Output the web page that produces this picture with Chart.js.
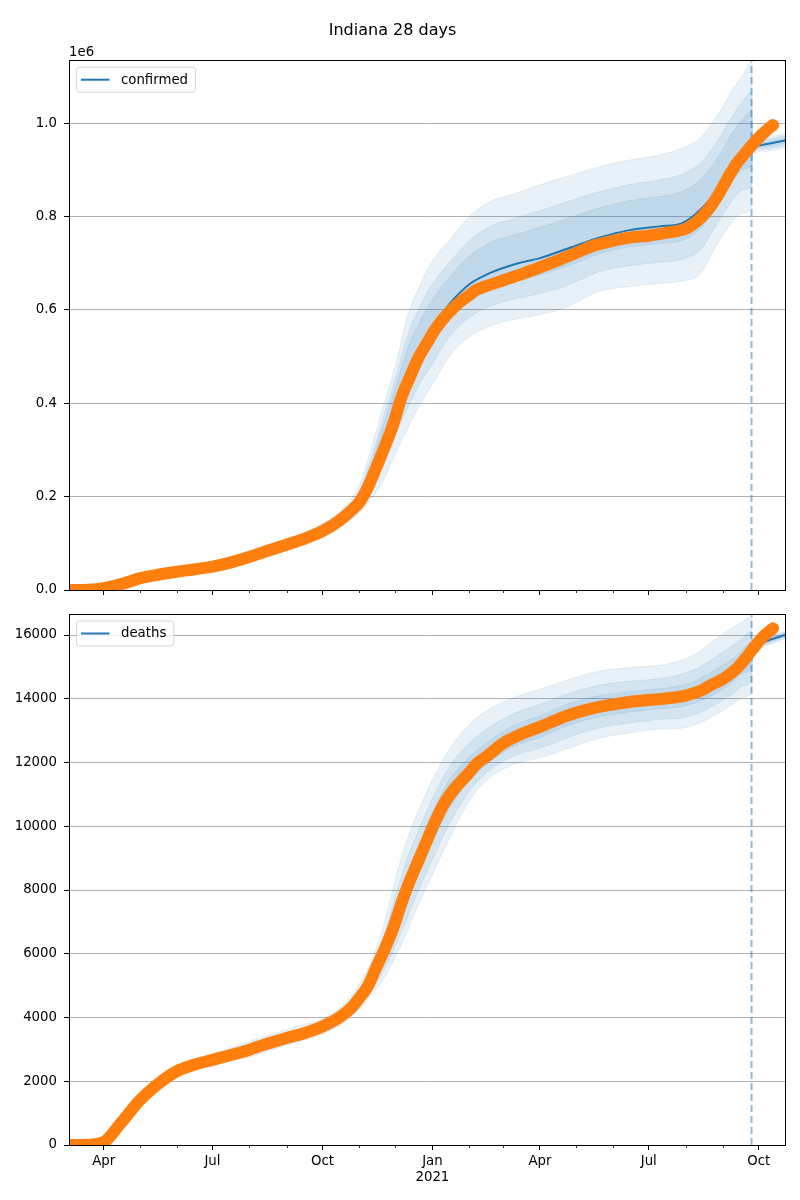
<!DOCTYPE html>
<html>
<head>
<meta charset="utf-8">
<title>Indiana 28 days</title>
<script src="https://cdn.jsdelivr.net/npm/chart.js@4.4.0/dist/chart.umd.min.js"></script>
<style>
  html, body { margin: 0; padding: 0; background: #fff; }
  #wrap { position: relative; width: 800px; height: 1200px; }
  .panel { position: absolute; left: 0; width: 800px; height: 600px; }
</style>
</head>
<body>
<div id="wrap">
  <div class="panel" style="top:0"><canvas id="confirmedChart" width="800" height="600"></canvas></div>
  <div class="panel" style="top:600px"><canvas id="deathsChart" width="800" height="600"></canvas></div>
</div>
<script>
// axis range and ticks
const xStart = '2020-03-03';
const xEnd = '2021-10-23';
const forecastStart = '2021-09-25';
const majorTickDates = ['2020-04-01', '2020-07-01', '2020-10-01', '2021-01-01', '2021-04-01', '2021-07-01', '2021-10-01'];
const majorTickLabels = ['Apr', 'Jul', 'Oct', ['Jan', '2021'], 'Apr', 'Jul', 'Oct'];
const minorTickDates = ['2020-05-01', '2020-06-01', '2020-08-01', '2020-09-01', '2020-11-01', '2020-12-01',
    '2021-02-01', '2021-03-01', '2021-05-01', '2021-06-01', '2021-08-01', '2021-09-01'];
const confirmedTicks = [0, 200000, 400000, 600000, 800000, 1000000];
const deathsTicks = [0, 2000, 4000, 6000, 8000, 10000, 12000, 14000, 16000];
const confirmedMax = 1135000;
const deathsMax = 16660;

// observed values (orange dots)
const obsDates = ['2020-03-03', '2020-03-15', '2020-04-01', '2020-04-15', '2020-05-01', '2020-05-15', '2020-06-01', '2020-06-15',
    '2020-07-01', '2020-07-15', '2020-08-01', '2020-08-15', '2020-09-01', '2020-09-15', '2020-10-01', '2020-10-15',
    '2020-10-25', '2020-11-01', '2020-11-08', '2020-11-15', '2020-11-22', '2020-11-29', '2020-12-06', '2020-12-13',
    '2020-12-20', '2020-12-27', '2021-01-03', '2021-01-10', '2021-01-17', '2021-01-24', '2021-01-31', '2021-02-07',
    '2021-02-15', '2021-03-01', '2021-03-15', '2021-04-01', '2021-04-15', '2021-05-01', '2021-05-15', '2021-06-01',
    '2021-06-15', '2021-07-01', '2021-07-15', '2021-08-01', '2021-08-08', '2021-08-15', '2021-08-22', '2021-08-29',
    '2021-09-05', '2021-09-12', '2021-09-19', '2021-09-26', '2021-10-03', '2021-10-10', '2021-10-13'];
const confirmedObs = [0, 200, 4000, 12000, 25000, 32000, 39000, 44000,
    50000, 58000, 71000, 83000, 97000, 109000, 126000, 148000,
    170000, 188000, 220000, 262000, 306000, 353000, 412000, 455000,
    496000, 527000, 557000, 581000, 600000, 617000, 630000, 643000,
    651000, 663000, 675000, 691000, 705000, 722000, 737000, 748000,
    755000, 759000, 765000, 774000, 785000, 801000, 822000, 850000,
    882000, 912000, 934000, 955000, 974000, 990000, 996000];
const deathsObs = [0, 0, 90, 670, 1390, 1870, 2310, 2510,
    2670, 2810, 2990, 3170, 3360, 3500, 3720, 4000,
    4300, 4620, 4980, 5570, 6140, 6780, 7570, 8280,
    8890, 9510, 10130, 10660, 11055, 11370, 11650, 11960,
    12180, 12600, 12870, 13120, 13340, 13560, 13700, 13820,
    13900, 13960, 14010, 14100, 14180, 14280, 14430, 14560,
    14720, 14930, 15220, 15560, 15880, 16120, 16210];

// model median and quantile bands
const modelDates = ['2020-03-03', '2020-04-01', '2020-05-01', '2020-06-01', '2020-07-01', '2020-08-01', '2020-09-01',
    '2020-10-01', '2020-10-17', '2020-11-01', '2020-11-11', '2020-11-21', '2020-12-01', '2020-12-11', '2020-12-21',
    '2021-01-01', '2021-01-15', '2021-02-01', '2021-02-19', '2021-03-11', '2021-04-01', '2021-04-25', '2021-05-21',
    '2021-06-15', '2021-07-10', '2021-07-29', '2021-08-13', '2021-08-27', '2021-09-10', '2021-09-18', '2021-09-25',
    '2021-09-26', '2021-10-07', '2021-10-23'];

const confirmedMid = [0, 4000, 25000, 39000, 50000, 72000, 98000,
    128000, 155000, 195000, 248000, 322000, 400000, 465000, 517000,
    563000, 612000, 655000, 680000, 698000, 711000, 732000, 755000,
    771000, 779000, 786000, 814000, 857000, 917000, 942000, 950000,
    950000, 955000, 963000];
const confirmedOuterHi = [0, 5000, 27000, 42000, 54000, 77000, 106000,
    142000, 172000, 225000, 305000, 395000, 480000, 585000, 650000,
    705000, 748000, 800000, 833000, 849000, 868000, 887000, 907000,
    921000, 932000, 947000, 968000, 1015000, 1075000, 1105000, 1131000,
    965000, 970000, 977000];
const confirmedOuterLo = [0, 3000, 23000, 36000, 46000, 66000, 89000,
    114000, 138000, 165000, 195000, 235000, 292000, 345000, 395000,
    440000, 500000, 543000, 566000, 580000, 590000, 608000, 640000,
    650000, 657000, 662000, 678000, 740000, 792000, 808000, 821000,
    935000, 940000, 948000];
const confirmedMidHi = [0, 5000, 26300, 41000, 52600, 75300, 103200,
    137100, 166100, 214500, 285100, 369500, 452000, 543000, 603500,
    655300, 700400, 749300, 779500, 796200, 813000, 832800, 853800,
    868500, 878500, 890700, 914100, 959700, 1019700, 1048000, 1067700,
    960000, 965000, 973000];
const confirmedMidLo = [0, 3000, 23700, 37100, 47500, 68200, 92300,
    119200, 144300, 176100, 214600, 267200, 332000, 389400, 440100,
    485500, 541400, 584400, 608200, 623700, 634800, 653900, 682500,
    694800, 702100, 707900, 728300, 783300, 838300, 857600, 868700,
    940000, 945000, 953000];
const confirmedInnerHi = [0, 4400, 25800, 40300, 51700, 74100, 101400,
    133900, 162100, 207600, 271900, 352700, 433600, 515400, 572900,
    622600, 669100, 715900, 744300, 761400, 777000, 797100, 818800,
    834000, 843300, 853600, 878700, 923400, 983400, 1010500, 1026000,
    955000, 960000, 968000];
const confirmedInnerLo = [0, 3700, 24400, 38100, 48800, 70200, 95300,
    123800, 149900, 186000, 232100, 295900, 367600, 429000, 480400,
    526100, 578400, 621400, 645800, 662600, 674700, 694800, 720500,
    734700, 742400, 748800, 773200, 821900, 879500, 901800, 911300,
    945000, 950000, 958000];

const deathsMid = [0, 90, 1390, 2310, 2680, 3000, 3370,
    3730, 4060, 4630, 5200, 6000, 6960, 8080, 8980,
    9980, 11020, 11730, 12300, 12800, 13110, 13500, 13770,
    13900, 14000, 14090, 14260, 14530, 14870, 15180, 15450,
    15560, 15800, 16000];
const deathsOuterHi = [0, 130, 1500, 2450, 2850, 3250, 3620,
    3980, 4360, 5050, 5800, 6850, 8350, 9600, 10550,
    11450, 12400, 13200, 13700, 14050, 14300, 14600, 14870,
    14980, 15050, 15220, 15500, 15900, 16250, 16430, 16560,
    15680, 15920, 16120];
const deathsOuterLo = [0, 60, 1280, 2170, 2520, 2760, 3130,
    3480, 3780, 4270, 4700, 5200, 5900, 6700, 7600,
    8480, 9600, 10800, 11550, 11950, 12150, 12450, 12770,
    12930, 13050, 13080, 13250, 13520, 13850, 14050, 14210,
    15440, 15680, 15880];
const deathsMidHi = [0, 114, 1456, 2394, 2782, 3150, 3520,
    3880, 4240, 4882, 5560, 6510, 7794, 8992, 9922,
    10862, 11848, 12612, 13140, 13550, 13820, 14168, 14430,
    14548, 14630, 14768, 15004, 15352, 15698, 15930, 16116,
    15640, 15880, 16080];
const deathsMidLo = [0, 70, 1315, 2215, 2571, 2837, 3207,
    3560, 3870, 4385, 4860, 5456, 6239, 7142, 8042,
    8960, 10054, 11098, 11790, 12222, 12454, 12792, 13090,
    13240, 13354, 13403, 13573, 13843, 14176, 14412, 14607,
    15480, 15720, 15920];
const deathsInnerHi = [0, 102, 1423, 2352, 2731, 3075, 3445,
    3805, 4150, 4756, 5380, 6255, 7377, 8536, 9451,
    10421, 11434, 12171, 12720, 13175, 13460, 13844, 14100,
    14224, 14315, 14429, 14632, 14941, 15284, 15555, 15783,
    15600, 15840, 16040];
const deathsInnerLo = [0, 80, 1354, 2264, 2627, 2921, 3291,
    3648, 3968, 4511, 5035, 5736, 6610, 7625, 8525,
    9485, 10551, 11423, 12052, 12520, 12786, 13167, 13440,
    13580, 13686, 13757, 13927, 14197, 14533, 14807, 15041,
    15520, 15760, 15960];

const FONT = 'DejaVu Sans';
const BLUE = '#1f77b4';
const ORANGE = '#ff7f0e';
const BAND = 'rgba(31, 119, 180, 0.1)';

Chart.defaults.font.family = FONT;
Chart.defaults.font.size = 13.3;
Chart.defaults.color = '#000';

// days since 2020-01-01
function dayOf(s) {
    const p = s.split('-').map(Number);
    return (Date.UTC(p[0], p[1] - 1, p[2]) - Date.UTC(2020, 0, 1)) / 86400000;
}

function pts(dates, vals) {
    return dates.map((d, i) => ({ x: dayOf(d), y: vals[i] }));
}

// frame, minor ticks, legend box and offset text
const decorations = {
    id: 'decorations',
    afterDatasetsDraw(chart, args, opts) {
        const ctx = chart.ctx;
        const a = chart.chartArea;
        const xs = chart.scales.x;
        ctx.save();

        ctx.strokeStyle = '#000';
        ctx.lineWidth = 1;
        ctx.strokeRect(Math.round(a.left) + 0.5, Math.round(a.top) + 0.5,
            Math.round(a.right - a.left), Math.round(a.bottom - a.top));

        ctx.lineWidth = 0.8;
        minorTickDates.forEach(s => {
            const px = Math.round(xs.getPixelForValue(dayOf(s))) + 0.5;
            ctx.beginPath();
            ctx.moveTo(px, a.bottom);
            ctx.lineTo(px, a.bottom + 3);
            ctx.stroke();
        });

        // legend
        ctx.font = '13.3px "' + FONT + '"';
        const textW = ctx.measureText(opts.label).width;
        const bx = a.left + 7.5, by = a.top + 7, bh = 25, bw = 44.5 + textW + 7.5;
        ctx.beginPath();
        if (ctx.roundRect) ctx.roundRect(bx, by, bw, bh, 3); else ctx.rect(bx, by, bw, bh);
        ctx.fillStyle = 'rgba(255,255,255,0.8)';
        ctx.fill();
        ctx.strokeStyle = '#d5d5d5';
        ctx.lineWidth = 1;
        ctx.stroke();
        ctx.strokeStyle = BLUE;
        ctx.lineWidth = 2;
        ctx.beginPath();
        ctx.moveTo(bx + 4.5, by + bh / 2);
        ctx.lineTo(bx + 33, by + bh / 2);
        ctx.stroke();
        ctx.fillStyle = '#000';
        ctx.textBaseline = 'middle';
        ctx.fillText(opts.label, bx + 44.5, by + bh / 2 + 0.5);

        if (opts.offsetText) {
            ctx.textBaseline = 'alphabetic';
            ctx.fillText(opts.offsetText, a.left, a.top - 4.5);
        }
        ctx.restore();
    }
};

function buildDatasets(obs, mid, bands, yTop) {
    const band = {
        borderColor: BAND, backgroundColor: BAND, borderWidth: 1, pointRadius: 0,
        cubicInterpolationMode: 'monotone', order: 3
    };
    const fx = dayOf(forecastStart);
    return [
        {
            label: 'observed', data: pts(obsDates, obs), borderColor: ORANGE, backgroundColor: ORANGE,
            borderWidth: 12, borderCapStyle: 'round', borderJoinStyle: 'round', pointRadius: 0,
            cubicInterpolationMode: 'monotone', clip: 0, order: 0
        },
        {
            label: 'median', data: pts(modelDates, mid), borderColor: BLUE, borderWidth: 2,
            pointRadius: 0, cubicInterpolationMode: 'monotone', order: 1
        },
        {
            label: 'forecast start', data: [{ x: fx, y: 0 }, { x: fx, y: yTop }],
            borderColor: 'rgba(31, 119, 180, 0.5)', borderWidth: 2, borderDash: [7, 4],
            pointRadius: 0, order: 2
        },
        { data: pts(modelDates, bands[0]), fill: '+1', ...band },
        { data: pts(modelDates, bands[1]), fill: false, ...band },
        { data: pts(modelDates, bands[2]), fill: '+1', ...band },
        { data: pts(modelDates, bands[3]), fill: false, ...band },
        { data: pts(modelDates, bands[4]), fill: '+1', ...band },
        { data: pts(modelDates, bands[5]), fill: false, ...band }
    ];
}

function makeChart(id, cfg) {
    return new Chart(document.getElementById(id).getContext('2d'), {
        type: 'line',
        data: { datasets: buildDatasets(cfg.obs, cfg.mid, cfg.bands, cfg.yMax) },
        plugins: [decorations],
        options: {
            responsive: false,
            animation: false,
            events: [],
            layout: { padding: cfg.padding },
            plugins: {
                legend: { display: false },
                tooltip: { enabled: false },
                title: cfg.title ? {
                    display: true, text: cfg.title, color: '#000',
                    font: { size: 16, weight: 'normal' }, padding: { top: 21, bottom: 20 }
                } : { display: false },
                decorations: { label: cfg.label, offsetText: cfg.offsetText }
            },
            scales: {
                x: {
                    type: 'linear',
                    min: dayOf(xStart),
                    max: dayOf(xEnd),
                    afterBuildTicks: axis => { axis.ticks = majorTickDates.map(s => ({ value: dayOf(s) })); },
                    afterFit: axis => { axis.height = cfg.xHeight; },
                    grid: { drawOnChartArea: false, tickLength: 5, tickColor: '#000', tickWidth: 1 },
                    border: { color: '#000' },
                    ticks: {
                        display: cfg.showX,
                        padding: 4,
                        maxRotation: 0,
                        autoSkip: false,
                        callback: v => {
                            const i = majorTickDates.findIndex(s => dayOf(s) === v);
                            return i >= 0 ? majorTickLabels[i] : '';
                        }
                    }
                },
                y: {
                    min: 0,
                    max: cfg.yMax,
                    afterBuildTicks: axis => { axis.ticks = cfg.yTicks.map(v => ({ value: v })); },
                    afterFit: axis => {
                        axis.width = 69;
                        axis.paddingTop = 0;
                        axis.paddingBottom = 0;
                    },
                    grid: { color: '#b0b0b0', lineWidth: 1, tickLength: 5, tickColor: '#000' },
                    border: { color: '#000' },
                    ticks: { padding: 7, callback: cfg.yFormat }
                }
            }
        }
    });
}

makeChart('confirmedChart', {
    title: 'Indiana 28 days',
    label: 'confirmed',
    offsetText: '1e6',
    obs: confirmedObs,
    mid: confirmedMid,
    bands: [confirmedOuterHi, confirmedOuterLo, confirmedMidHi, confirmedMidLo, confirmedInnerHi, confirmedInnerLo],
    yMax: confirmedMax,
    yTicks: confirmedTicks,
    yFormat: v => (v / 1e6).toFixed(1),
    padding: { left: 0, right: 15, top: 0, bottom: 0 },
    xHeight: 10,
    showX: false
});

makeChart('deathsChart', {
    title: null,
    label: 'deaths',
    offsetText: null,
    obs: deathsObs,
    mid: deathsMid,
    bands: [deathsOuterHi, deathsOuterLo, deathsMidHi, deathsMidLo, deathsInnerHi, deathsInnerLo],
    yMax: deathsMax,
    yTicks: deathsTicks,
    yFormat: v => String(v),
    padding: { left: 0, right: 15, top: 14, bottom: 0 },
    xHeight: 55,
    showX: true
});
</script>
</body>
</html>
